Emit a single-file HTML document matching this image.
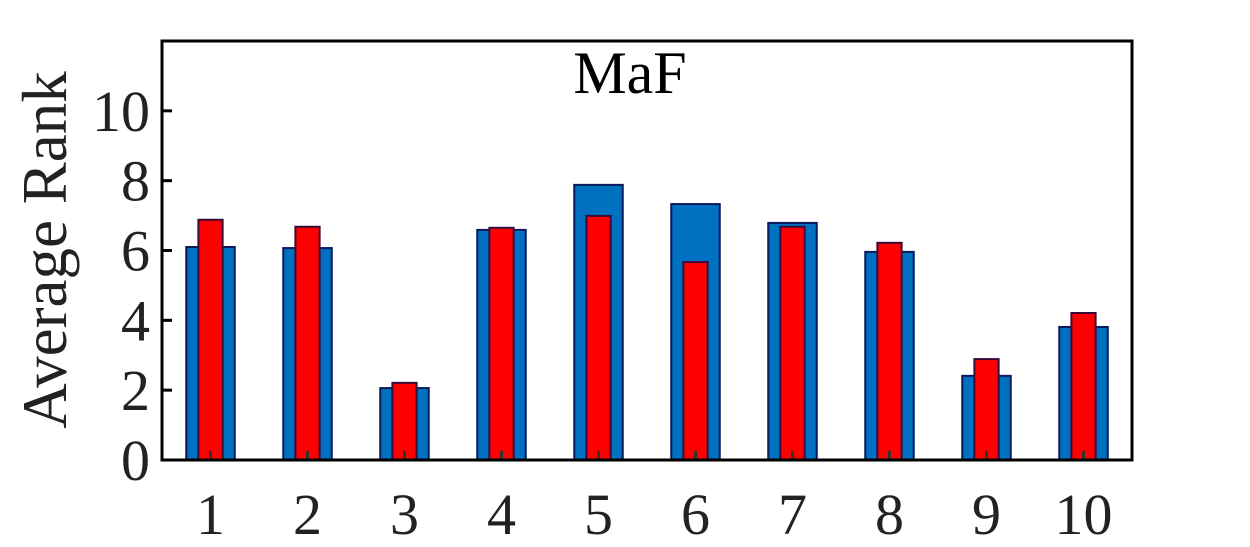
<!DOCTYPE html>
<html><head><meta charset="utf-8"><style>
body{margin:0;background:#fff;}
svg{display:block;font-family:"Liberation Serif",serif;}
</style></head><body>
<svg id="chart" width="1250" height="547">
<text x="630" y="93" font-size="60" text-anchor="middle" fill="#000">MaF</text>
<text transform="translate(66,250) rotate(-90)" font-size="63" text-anchor="middle" fill="#222">Average Rank</text>
<g id="bars"></g>
<g id="axes"></g>
</svg>
<script>
const categories=["1","2","3","4","5","6","7","8","9","10"];
const blueValues=[6.1,6.07,2.06,6.59,7.88,7.33,6.79,5.96,2.41,3.81];
const redValues=[6.88,6.68,2.21,6.65,6.99,5.67,6.68,6.22,2.89,4.21];
const yTicks=[0,2,4,6,8,10];
const L=162,R=1132,T=41,B=460,yMax=12;
const sx=i=>L+(i+0.5)*(R-L)/categories.length;
const sy=v=>B-v*(B-T)/yMax;
const unit=(R-L)/categories.length;
const ns="http://www.w3.org/2000/svg";
const bars=document.getElementById('bars'),axes=document.getElementById('axes');
function mk(tag,attrs,parent){const e=document.createElementNS(ns,tag);for(const k in attrs)e.setAttribute(k,attrs[k]);parent.appendChild(e);return e;}
categories.forEach((c,i)=>{
 const cx=sx(i);
 const b=mk('rect',{x:cx-unit*0.25,y:sy(blueValues[i]),width:unit*0.5,height:B-sy(blueValues[i]),fill:'#0070c0',stroke:'#0a1a5a','stroke-width':2},bars);
 
 
 const r=mk('rect',{x:cx-unit*0.125,y:sy(redValues[i]),width:unit*0.25,height:B-sy(redValues[i]),fill:'#ff0000',stroke:'#3a0a3a','stroke-width':2},bars);
 
 
 const tk=mk('line',{x1:cx,x2:cx,y1:B,y2:B-9,stroke:'#333','stroke-width':3},axes);
 
 
 const t=mk('text',{x:cx,y:534,'font-size':58,'text-anchor':'middle',fill:'#222'},axes);
 t.textContent=c;
 
 
});
yTicks.forEach(v=>{
 const y=sy(v);
 const tk=mk('line',{x1:L,x2:L+10,y1:y,y2:y,stroke:'#000','stroke-width':3},axes);
 
 
 const t=mk('text',{x:150,y:y+20,'font-size':58,'text-anchor':'end',fill:'#222'},axes);
 t.textContent=v;
 
 
});
const f=mk('rect',{x:L,y:T,width:R-L,height:B-T,fill:'none',stroke:'#000','stroke-width':3},axes);


</script>
</body></html>
